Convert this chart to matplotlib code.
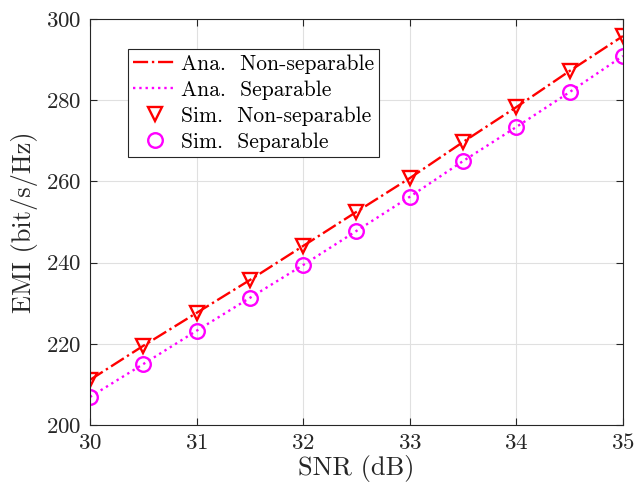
import numpy as np
import matplotlib.pyplot as plt

plt.rcParams['font.family'] = 'cmr10'
plt.rcParams['mathtext.fontset'] = 'cm'
plt.rcParams['axes.formatter.use_mathtext'] = True

snr = [30, 30.5, 31, 31.5, 32, 32.5, 33, 33.5, 34, 34.5, 35]
emi_nonsep = [211.1, 219.5, 227.6, 235.7, 244.1, 252.5, 260.8, 269.7, 278.3, 287.2, 295.8]
emi_sep = [206.9, 215.0, 223.2, 231.3, 239.4, 247.8, 256.2, 265.0, 273.4, 282.0, 290.9]

fig = plt.figure(figsize=(6.36, 4.93), dpi=100)
ax = fig.add_axes([0.1415, 0.138, 0.838, 0.8235])

ax.plot(snr, emi_nonsep, '-.', color='red', lw=1.7, label='Ana.  Non-separable')
ax.plot(snr, emi_sep, ':', color='magenta', lw=1.7, label='Ana.  Separable')
ax.plot(snr, emi_nonsep, 'v', color='red', mfc='none', mew=1.7, ms=10.5, label='Sim.  Non-separable')
ax.plot(snr, emi_sep, 'o', color='magenta', mfc='none', mew=1.7, ms=10.5, label='Sim.  Separable')

ax.set_xlim(30, 35)
ax.set_ylim(200, 300)
ax.set_xticks(np.arange(30, 36, 1))
ax.set_yticks(np.arange(200, 301, 20))
ax.grid(True, color='#e0e0e0', lw=0.8)
ax.set_axisbelow(True)
ax.tick_params(direction='in', top=True, right=True, labelsize=16.5, length=5, pad=6, colors='#262626')
for s in ax.spines.values():
    s.set_color('#262626')
    s.set_linewidth(0.8)

ax.set_xlabel('SNR (dB)', fontsize=19, color='#262626', labelpad=1)
ax.set_ylabel('EMI (bit/s/Hz)', fontsize=19, color='#262626', labelpad=6)

leg = ax.legend(loc='upper left', bbox_to_anchor=(0.071, 0.926), borderaxespad=0,
                fontsize=15.5, fancybox=False, framealpha=1, edgecolor='#262626',
                handlelength=2.0, handletextpad=0.2, borderpad=0.25, labelspacing=0.3)
leg.get_frame().set_linewidth(0.8)

fig.savefig('out.png', dpi=100)
